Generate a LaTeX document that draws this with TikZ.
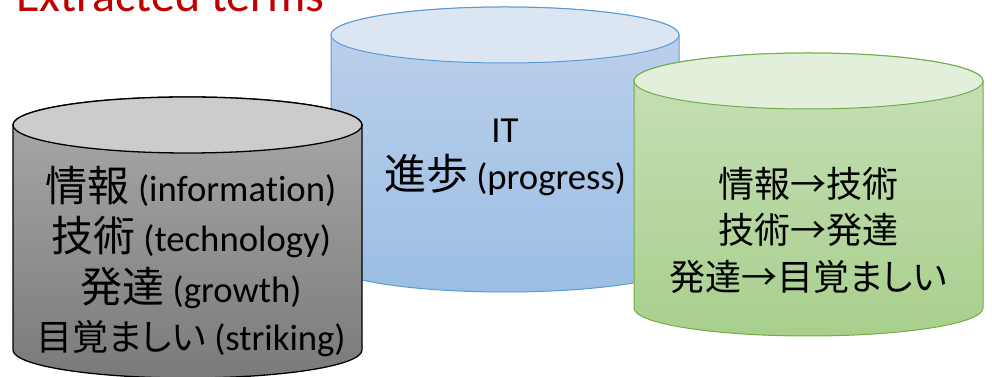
\documentclass[tikz,border=0pt]{standalone}
\usepackage{fontspec}
\setmainfont{Carlito}[Ligatures={NoCommon}, RawFeature={-liga;-dlig}]
\newfontfamily\jpfont[RawFeature=+palt]{Noto Sans CJK JP}
\newcommand{\jbig}[1]{{\jpfont\fontsize{42}{42}\selectfont #1}}
\newcommand{\jmid}[1]{{\jpfont\fontsize{36}{36}\selectfont #1}}

\definecolor{titlered}{RGB}{192,0,0}
\definecolor{graytop}{RGB}{204,204,204}
\definecolor{grayhi}{RGB}{170,170,170}
\definecolor{graylo}{RGB}{122,122,122}
\definecolor{bluetop}{RGB}{220,230,243}
\definecolor{bluehi}{RGB}{190,209,236}
\definecolor{bluelo}{RGB}{155,190,228}
\definecolor{blueline}{RGB}{91,155,213}
\definecolor{greentop}{RGB}{226,239,218}
\definecolor{greenhi}{RGB}{200,224,184}
\definecolor{greenlo}{RGB}{168,207,141}
\definecolor{greenline}{RGB}{112,173,71}

% drum: centre x, top-cap y, bottom-cap y, x radius, y radius,
%       cap fill, body top colour, body bottom colour, outline colour
\newcommand{\drum}[9]{%
  \shadedraw[top color=#7, bottom color=#8, draw=#9, drumedge]
    ({#1-#4},#2) -- ({#1-#4},#3)
    arc[start angle=180, end angle=360, x radius=#4, y radius=#5]
    -- ({#1+#4},#2)
    arc[start angle=0, end angle=180, x radius=#4, y radius=#5] -- cycle;
  \filldraw[fill=#6, draw=#9, drumedge]
    (#1,#2) ellipse[x radius=#4, y radius=#5];
}

\tikzset{
  drumedge/.style={line width=1pt},
  termline/.style={font=\fontsize{36.7}{36.7}\selectfont, anchor=base,
    inner sep=0pt, text=black},
  heading/.style={font=\fontsize{48}{48}\selectfont, anchor=base west,
    inner sep=0pt, text=titlered},
}

\begin{document}
\begin{tikzpicture}[x=1pt, y=1pt]
  \useasboundingbox (0,0) rectangle (992,377);

  % heading
  \node[heading] (title) at (16,365) {Extracted terms};

  % back drum: topics
  \drum{505}{342}{113}{174}{28}{bluetop}{bluehi}{bluelo}{blueline}
  % right drum: term pairs
  \drum{808.5}{296}{69}{174.5}{28}{greentop}{greenhi}{greenlo}{greenline}
  % front drum: single terms
  \begin{scope}[drumedge/.style={line width=1.3pt}]
    \drum{187.5}{252}{27}{174.5}{28}{graytop}{grayhi}{graylo}{black}
  \end{scope}

  % single terms
  \node[termline] (t1) at (191,175) {\jbig{情報} (information)};
  \node[termline] (t2) at (191,125) {\jbig{技術} (technology)};
  \node[termline] (t3) at (191,74)  {\jbig{発達} (growth)};
  \node[termline] (t4) at (191,26)  {\jmid{目覚ましい} (striking)};

  % topics
  \node[termline] (p1) at (505,234) {IT};
  \node[termline] (p2) at (505,187) {\jbig{進歩} (progress)};

  % term pairs
  \node[termline] (q1) at (808,179.5) {\jmid{情報→技術}};
  \node[termline] (q2) at (808,133)   {\jmid{技術→発達}};
  \node[termline] (q3) at (808,86.5)  {\jmid{発達→目覚ましい}};
\end{tikzpicture}
\end{document}
